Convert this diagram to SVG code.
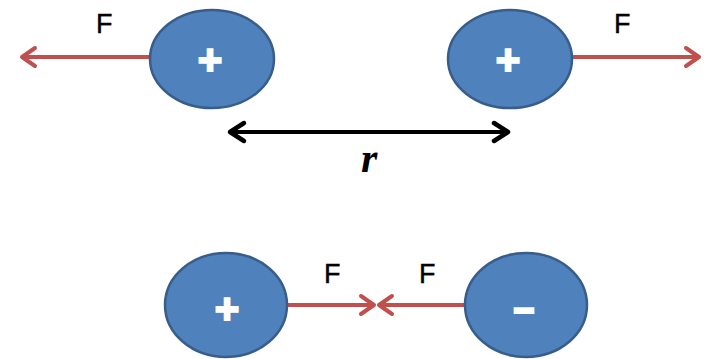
<svg xmlns="http://www.w3.org/2000/svg" width="711" height="359" viewBox="0 0 711 359">
<style>
.charge{fill:#4f81bd;stroke:#385d8a;stroke-width:2.5}
.sign{fill:#ffffff;stroke:#ffffff;stroke-width:2;font-family:"Liberation Sans",Arial,sans-serif;font-weight:bold;text-anchor:middle}
.force{stroke:#c0504d;stroke-width:4;fill:none}
.dist{stroke:#000000;stroke-width:4;fill:none}
.lbl{font-family:"Liberation Sans",Arial,sans-serif;font-size:27px;fill:#000000;stroke:#000000;stroke-width:0.4}
.r{font-family:"Liberation Serif","Times New Roman",serif;font-style:italic;font-weight:bold;font-size:42px;fill:#000000}
</style>
<defs>
<marker id="redhead" markerUnits="userSpaceOnUse" markerWidth="30" markerHeight="30" refX="0" refY="0" viewBox="-16 -15 20 30" orient="auto" overflow="visible">
<path d="M-13,-9 L0,0 L-13,9" fill="none" stroke="#c0504d" stroke-width="4" stroke-linecap="round" stroke-linejoin="round"/>
</marker>
<marker id="blackhead" markerUnits="userSpaceOnUse" markerWidth="30" markerHeight="30" refX="0" refY="0" viewBox="-18 -15 22 30" orient="auto-start-reverse" overflow="visible">
<path d="M-14,-9 L0,0 L-14,9" fill="none" stroke="#000000" stroke-width="4.5" stroke-linecap="round" stroke-linejoin="round"/>
</marker>
</defs>
<g id="connectors">
<line class="force" x1="150" y1="57" x2="22" y2="57" marker-end="url(#redhead)"/>
<line class="force" x1="572" y1="57" x2="699" y2="57" marker-end="url(#redhead)"/>
<line class="dist" x1="230" y1="132" x2="508" y2="132" marker-start="url(#blackhead)" marker-end="url(#blackhead)"/>
<line class="force" x1="287" y1="305" x2="374" y2="305" marker-end="url(#redhead)"/>
<line class="force" x1="464" y1="305" x2="379" y2="305" marker-end="url(#redhead)"/>
</g>
<g id="labels">
<text class="lbl" x="96" y="33">F</text>
<text class="lbl" x="614" y="33">F</text>
<text class="r" x="361" y="172">r</text>
<text class="lbl" x="324" y="283">F</text>
<text class="lbl" x="419" y="283">F</text>
</g>
<g id="charge-top-left">
<ellipse class="charge" cx="212" cy="59" rx="62" ry="49"/>
<text class="sign" x="210" y="74" font-size="42">+</text>
</g>
<g id="charge-top-right">
<ellipse class="charge" cx="510" cy="59" rx="62" ry="49"/>
<text class="sign" x="508" y="74" font-size="42">+</text>
</g>
<g id="charge-bottom-left">
<ellipse class="charge" cx="226" cy="305" rx="61" ry="52"/>
<text class="sign" x="227" y="323" font-size="42">+</text>
</g>
<g id="charge-bottom-right">
<ellipse class="charge" cx="526" cy="305" rx="61" ry="52"/>
<text class="sign" x="0" y="0" font-size="40" transform="translate(524,321) scale(1.7,1)">-</text>
</g>
</svg>
